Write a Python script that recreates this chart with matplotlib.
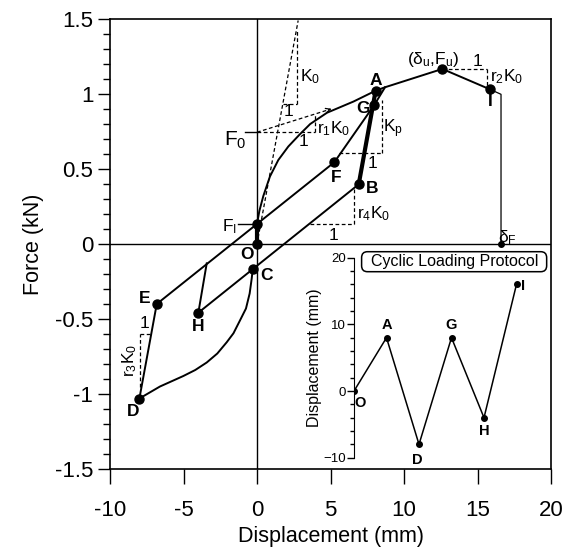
import matplotlib
matplotlib.use("Agg")
import matplotlib.pyplot as plt
from matplotlib.patches import FancyBboxPatch
from matplotlib.ticker import MultipleLocator

plt.rcParams['font.family'] = ['Liberation Sans', 'DejaVu Sans']
plt.rcParams['mathtext.fontset'] = 'custom'
plt.rcParams['mathtext.rm'] = 'Liberation Sans'
plt.rcParams['mathtext.it'] = 'Liberation Sans:italic'

# backbone curve O -> A -> peak -> I
backbone_x = [0, 0.01, 0.05, 0.16, 0.43, 0.88, 1.45, 2.13, 2.9, 3.62, 4.76, 6.57, 8.07, 8.71, 12.61, 15.85, 16.6]
backbone_y = [0, 0.10, 0.16, 0.22, 0.32, 0.45, 0.56, 0.65, 0.73, 0.80, 0.875, 0.95, 1.022, 1.045, 1.167, 1.031, 0.998]

# named points of the loop
pts = {
    'O': (0.0, 0.0), 'A': (8.07, 1.022), 'B': (6.92, 0.398), 'C': (-0.29, -0.169),
    'D': (-8.0, -1.03), 'E': (-6.82, -0.40), 'F': (5.26, 0.545), 'G': (7.98, 0.927),
    'H': (-3.99, -0.458), 'I': (15.85, 1.031), 'FI': (0.0, 0.135), 'peak': (12.61, 1.167),
}
dF = (16.6, 0.0)
h_top = (-3.42, -0.129)
g_join = (8.71, 1.045)

# reloading curve C -> D
cd_x = [-0.29, -0.36, -0.5, -0.75, -1.16, -1.6, -2.06, -2.7, -3.42, -4.2, -5.01, -6.6, -8.0]
cd_y = [-0.169, -0.23, -0.33, -0.43, -0.51, -0.595, -0.655, -0.73, -0.79, -0.84, -0.88, -0.95, -1.03]

# cyclic loading protocol (inset)
prot_x = [0, 1, 2, 3, 4, 5]
prot_y = [0, 8, -8, 8, -4, 16]
prot_lbl = ['O', 'A', 'D', 'G', 'H', 'I']

fig = plt.figure(figsize=(5.63, 5.49), dpi=100)
ax = fig.add_axes([110/563, 80/549, 441/563, 450/549])

lw = 1.4
k = 'black'
ax.axhline(0, color=k, lw=1.0)
ax.axvline(0, color=k, lw=1.0)

ax.plot(backbone_x[:-1], backbone_y[:-1], color=k, lw=lw)
ax.plot([pts['I'][0], backbone_x[-1], dF[0]], [pts['I'][1], backbone_y[-1], dF[1]], color=k, lw=0.9)
ax.plot(cd_x, cd_y, color=k, lw=lw)

def seg(p, q, **kw):
    ax.plot([p[0], q[0]], [p[1], q[1]], **kw)

seg(pts['E'], pts['F'], color=k, lw=lw)
seg(pts['F'], pts['G'], color=k, lw=lw)
seg(pts['G'], g_join, color=k, lw=lw)
seg(pts['H'], pts['B'], color=k, lw=lw)
seg(pts['H'], h_top, color=k, lw=lw)
seg(pts['D'], pts['E'], color=k, lw=lw)
seg(pts['A'], pts['B'], color=k, lw=3.0, solid_capstyle='round')
seg(pts['O'], pts['FI'], color=k, lw=3.0)

# slope triangles / guide lines
dsh = dict(color=k, lw=0.9, ls=(0, (3, 2)))
seg((0, 0), (2.8, 1.49), **dsh)
seg((1.76, 0.935), (2.7, 0.935), **dsh)
seg((2.7, 0.935), (2.7, 1.43), **dsh)
seg((0, 0.745), (3.96, 0.745), **dsh)
seg((3.96, 0.745), (3.96, 0.866), **dsh)
seg((0, 0.745), (5.0, 0.899), **dsh)
ax.annotate('', xy=(5.25, 0.907), xytext=(4.7, 0.89),
            arrowprops=dict(arrowstyle='->', color=k, lw=0.9, mutation_scale=8))
seg((5.55, 0.604), (8.51, 0.604), **dsh)
seg((8.51, 0.604), (8.51, 0.96), **dsh)
seg((3.62, 0.133), (6.57, 0.133), **dsh)
seg((6.57, 0.133), (6.57, 0.38), **dsh)
seg(pts['peak'], (15.67, 1.167), **dsh)
seg((15.67, 1.167), (15.67, 1.05), **dsh)
seg((-7.95, -0.95), (-7.95, -0.6), **dsh)
seg((-7.95, -0.6), (-7.3, -0.6), **dsh)

for name in ['O', 'A', 'B', 'C', 'D', 'E', 'F', 'G', 'H', 'I', 'FI', 'peak']:
    ax.plot(*pts[name], 'o', color=k, ms=6.5)
ax.plot(*dF, 'o', color=k, ms=4)

bold = dict(fontsize=12.5, fontweight='bold', ha='center', va='center')
ax.text(8.07, 1.09, 'A', **bold)
ax.text(7.23, 0.905, 'G', **bold)
ax.text(5.42, 0.44, 'F', **bold)
ax.text(7.8, 0.37, 'B', **bold)
ax.text(-0.7, -0.073, 'O', **bold)
ax.text(0.66, -0.207, 'C', **bold)
ax.text(-8.41, -1.118, 'D', **bold)
ax.text(-7.62, -0.362, 'E', **bold)
ax.text(-3.99, -0.551, 'H', **bold)
ax.text(15.85, 0.949, 'I', **bold)

nrm = dict(fontsize=12.5, ha='center', va='center')
ax.text(12.0, 1.227, r'$\mathregular{(δ_u{,}F_u)}$', **nrm)
ax.text(17.05, 0.045, r'$\mathregular{δ_F}$', **nrm)
ax.text(2.95, 1.115, r'$\mathregular{K_0}$', fontsize=12.5, ha='left', va='center')
ax.text(2.14, 0.88, '1', **nrm)
ax.text(5.19, 0.771, r'$\mathregular{r_1K_0}$', **nrm)
ax.text(3.15, 0.682, '1', **nrm)
ax.text(9.27, 0.771, r'$\mathregular{K_p}$', **nrm)
ax.text(7.87, 0.538, '1', **nrm)
ax.text(7.91, 0.205, r'$\mathregular{r_4K_0}$', **nrm)
ax.text(5.19, 0.06, '1', **nrm)
ax.text(16.99, 1.115, r'$\mathregular{r_2K_0}$', **nrm)
ax.text(14.99, 1.215, '1', **nrm)
ax.text(-8.64, -0.773, r'$\mathregular{r_3K_0}$', rotation=90, **nrm)
ax.text(-7.62, -0.53, '1', **nrm)
ax.text(-1.5, 0.693, r'$\mathregular{F_0}$', fontsize=15, ha='center', va='center')
seg((-0.82, 0.745), (0.0, 0.745), color=k, lw=1.0)
ax.text(-1.84, 0.115, r'$\mathregular{F_I}$', **nrm)
seg((-1.27, 0.131), (-0.1, 0.131), color=k, lw=1.0)

ax.set_xlim(-10, 20)
ax.set_ylim(-1.5, 1.5)
ax.set_xticks([-10, -5, 0, 5, 10, 15, 20])
ax.set_yticks([-1.5, -1, -0.5, 0, 0.5, 1, 1.5])
ax.set_yticklabels(['-1.5', '-1', '-0.5', '0', '0.5', '1', '1.5'])
ax.set_xticklabels(['-10', '-5', '0', '5', '10', '15', '20'])
ax.yaxis.set_minor_locator(MultipleLocator(0.1))
ax.tick_params(axis='x', direction='out', length=11, width=1.0, labelsize=16, pad=11)
ax.tick_params(axis='y', which='major', direction='out', length=9, width=1.0, labelsize=16, pad=3)
ax.tick_params(axis='y', which='minor', direction='out', length=5, width=1.0)
ax.set_xlabel('Displacement (mm)', fontsize=15.5, labelpad=4)
ax.set_ylabel('Force (kN)', fontsize=15.5, labelpad=8)
for s in ax.spines.values():
    s.set_linewidth(1.2)

# inset: loading protocol
ax2 = fig.add_axes([354/563, 91.3/549, 195/563, 200/549])
ax2.set_facecolor('none')
ax2.plot(prot_x, prot_y, color=k, lw=1.1, marker='o', ms=4)
ax2.set_xlim(0, 6)
ax2.set_ylim(-10, 20)
for s in ['top', 'right', 'bottom']:
    ax2.spines[s].set_visible(False)
ax2.set_xticks([])
ax2.set_yticks([-10, 0, 10, 20])
ax2.yaxis.set_minor_locator(MultipleLocator(2))
ax2.tick_params(axis='y', which='major', length=5, width=1.0, labelsize=9.5, pad=1)
ax2.tick_params(axis='y', which='minor', length=3, width=1.0)
ax2.set_ylabel('Displacement (mm)', fontsize=11.5, labelpad=1)
lbl_off = [(0.2, -1.8), (1.0, 9.94), (1.95, -10.3), (3.0, 9.94), (4.0, -6.06), (5.21, 15.7)]
for t, (lx, ly) in zip(prot_lbl, lbl_off):
    ax2.text(lx, ly, t, fontsize=10.5, fontweight='bold', ha='center', va='center')
box = FancyBboxPatch((0.039, 0.93), 0.949, 0.10, transform=ax2.transAxes,
                     boxstyle='round,pad=0,rounding_size=0.03', fc='white', ec=k, lw=1.1,
                     clip_on=False)
ax2.add_patch(box)
ax2.text(0.514, 0.98, 'Cyclic Loading Protocol', transform=ax2.transAxes, fontsize=11.5,
         ha='center', va='center', clip_on=False)

fig.savefig('out.png', dpi=100)
